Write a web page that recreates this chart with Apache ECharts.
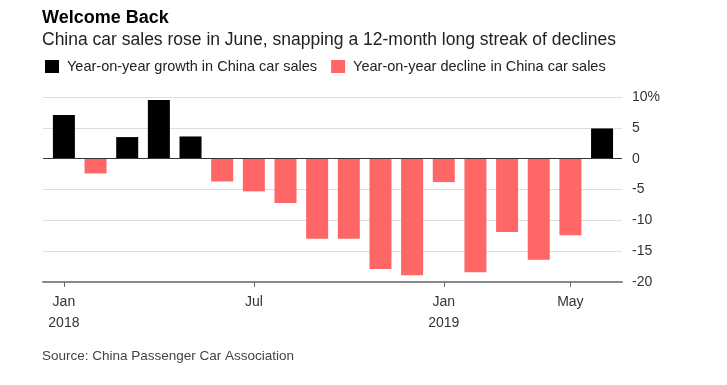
<!DOCTYPE html>
<html>
<head>
<meta charset="utf-8">
<script src="https://cdn.jsdelivr.net/npm/echarts@6/dist/echarts.min.js"></script>
<style>html,body{margin:0;padding:0;background:#fff}#c{width:727px;height:385px}</style>
</head>
<body>
<div id="c"></div>
<script>
// Months Jan 2018 .. Jun 2019
const months = ['Jan 2018','Feb 2018','Mar 2018','Apr 2018','May 2018','Jun 2018','Jul 2018','Aug 2018','Sep 2018','Oct 2018','Nov 2018','Dec 2018','Jan 2019','Feb 2019','Mar 2019','Apr 2019','May 2019','Jun 2019'];
const yoyChange = [7.1, -2.4, 3.5, 9.5, 3.6, -3.7, -5.3, -7.2, -13.0, -13.0, -17.9, -18.9, -3.8, -18.4, -11.9, -16.4, -12.4, 4.9];
const tickIndex = [0, 6, 12, 16];
const tickMonth = ['Jan', 'Jul', 'Jan', 'May'];
const tickYear = ['2018', '', '2019', ''];
const yTicks = [10, 5, 0, -5, -10, -15, -20];

const growth = yoyChange.map((v, i) => v >= 0 ? [i, v] : null).filter(Boolean);
const decline = yoyChange.map((v, i) => v < 0 ? [i, v] : null).filter(Boolean);

const FONT = 'Liberation Sans, Arial, sans-serif';
const chart = echarts.init(document.getElementById('c'));
chart.setOption({
  animation: false,
  backgroundColor: '#fff',
  textStyle: { fontFamily: FONT },
  title: [
    {
      text: 'Welcome Back', left: 37, top: 4, padding: [5, 5],
      textStyle: { fontFamily: FONT, fontSize: 18, fontWeight: 'bold', color: '#000' }
    },
    {
      text: 'China car sales rose in June, snapping a 12-month long streak of declines',
      left: 37, top: 26, padding: [5, 5],
      textStyle: { fontFamily: FONT, fontSize: 17.5, fontWeight: 'normal', color: '#222' }
    }
  ],
  legend: {
    left: 40, top: 54, icon: 'rect', itemWidth: 14, itemHeight: 13, itemGap: 14,
    textStyle: { fontFamily: FONT, fontSize: 14.5, color: '#222', padding: [0, 0, 0, 3] },
    data: ['Year-on-year growth in China car sales', 'Year-on-year decline in China car sales']
  },
  grid: { left: 43, right: 105, top: 97, bottom: 103, containLabel: false },
  xAxis: {
    type: 'value', min: -0.66, max: 17.63,
    splitLine: { show: false },
    axisLine: { show: true, onZero: false, lineStyle: { color: '#888', width: 2 } },
    axisTick: { show: true, customValues: tickIndex, length: 5, lineStyle: { color: '#666', width: 1 } },
    axisLabel: {
      customValues: tickIndex, margin: 10,
      formatter: function (v) {
        const k = tickIndex.indexOf(Math.round(v));
        if (k < 0) return '';
        return tickYear[k] ? tickMonth[k] + '\n' + tickYear[k] : tickMonth[k];
      },
      fontFamily: FONT, fontSize: 14, color: '#333', lineHeight: 21
    }
  },
  yAxis: {
    type: 'value', position: 'right', min: -20, max: 10, interval: 5,
    axisLine: { show: false }, axisTick: { show: false },
    splitLine: { lineStyle: { color: '#ddd', width: 1 } },
    axisLabel: {
      margin: 10, fontFamily: FONT, fontSize: 14, color: '#333',
      formatter: v => v === yTicks[0] ? v + '%' : String(v)
    }
  },
  series: [
    {
      name: 'Year-on-year growth in China car sales', type: 'bar', data: growth,
      barWidth: 22, barGap: '-100%', itemStyle: { color: '#000' },
      markLine: {
        silent: true, symbol: 'none', label: { show: false },
        lineStyle: { color: '#333', width: 1, type: 'solid' },
        data: [{ yAxis: 0 }]
      }
    },
    {
      name: 'Year-on-year decline in China car sales', type: 'bar', data: decline,
      barWidth: 22, barGap: '-100%', itemStyle: { color: '#ff6666' }
    }
  ],
  graphic: [{
    type: 'text', left: 42, top: 349,
    style: { text: 'Source: China Passenger Car Association', fontFamily: FONT, fontSize: 13.5, fill: '#444' }
  }]
});
</script>
</body>
</html>
